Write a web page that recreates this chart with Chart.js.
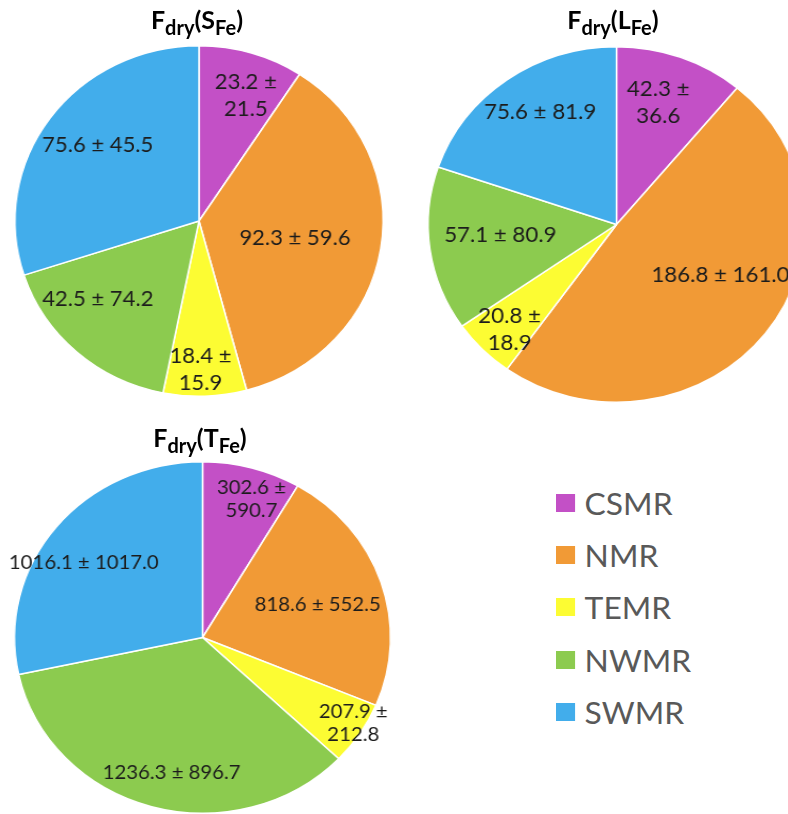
<!DOCTYPE html>
<html>
<head>
<meta charset="utf-8">
<title>Dry deposition flux of Fe by region</title>
<script src="https://cdn.jsdelivr.net/npm/chart.js@4"></script>
<style>
  html, body { margin: 0; padding: 0; background: #fff; }
  body { width: 788px; height: 814px; position: relative; overflow: hidden; font-family: Lato, "Open Sans", sans-serif; }
  .pie { position: absolute; transform-origin: 50% 50%; }
  .pie canvas { display: block; }
  .title { position: absolute; font-weight: 700; font-size: 25px; line-height: 1; color: #000; white-space: nowrap; transform: translateX(-50%); z-index: 2; }
  .title sub { font-size: 0.8em; vertical-align: -0.3em; line-height: 0; }
  .legend { position: absolute; left: 556px; top: 477px; margin: 0; padding: 0; list-style: none; transform: scaleX(1.06); transform-origin: 0 0; }
  .legend li { height: 52.2px; display: flex; align-items: center; font-size: 30px; color: #595959; }
  .legend i { display: inline-block; width: 18px; height: 18px; margin-right: 9px; }
</style>
</head>
<body>

<div class="title" style="left:197px; top:7px;">F<sub>dry</sub>(S<sub>Fe</sub>)</div>
<div class="title" style="left:613px; top:7px;">F<sub>dry</sub>(L<sub>Fe</sub>)</div>
<div class="title" style="left:200px; top:425px;">F<sub>dry</sub>(T<sub>Fe</sub>)</div>

<div class="pie" id="boxS"><canvas id="pieS"></canvas></div>
<div class="pie" id="boxL"><canvas id="pieL"></canvas></div>
<div class="pie" id="boxT"><canvas id="pieT"></canvas></div>

<ul class="legend" id="legend"></ul>

<script>
// Regions and their fill colours
const regions = ['CSMR', 'NMR', 'TEMR', 'NWMR', 'SWMR'];
const regionColors = ['#C350C6', '#F19A36', '#FCFC33', '#8CCB4F', '#42ADEB'];

// Soluble Fe: mean and standard deviation
const sfeMean = [23.2, 92.3, 18.4, 42.5, 75.6];
const sfeSd   = [21.5, 59.6, 15.9, 74.2, 45.5];

// Labile Fe: mean and standard deviation
const lfeMean = [42.3, 186.8, 20.8, 57.1, 75.6];
const lfeSd   = [36.6, 161.0, 18.9, 80.9, 81.9];

// Total Fe: mean and standard deviation
const tfeMean = [302.6, 818.6, 207.9, 1236.3, 1016.1];
const tfeSd   = [590.7, 552.5, 212.8, 896.7, 1017.0];

// Label placement inside each slice: t = position along the arc (0..1),
// r = fraction of the radius, wrap = break after the "±" sign
const placeS = [
  { t: 0.59, r: 0.76, wrap: true },
  { t: 0.51, r: 0.53 },
  { t: 0.55, r: 0.85, wrap: true },
  { t: 0.65, r: 0.71 },
  { t: 0.52, r: 0.70 }
];
const placeL = [
  { t: 0.45, r: 0.72, wrap: true },
  { t: 0.44, r: 0.62 },
  { t: 0.42, r: 0.82, wrap: true },
  { t: 0.54, r: 0.62 },
  { t: 0.54, r: 0.75 }
];
const placeT = [
  { t: 0.60, r: 0.83, wrap: true },
  { t: 0.52, r: 0.64 },
  { t: 0.42, r: 0.94, wrap: true },
  { t: 0.47, r: 0.79 },
  { t: 0.45, r: 0.76 }
];

// Writes "mean ± sd" into each slice
const sliceLabels = {
  id: 'sliceLabels',
  afterDatasetsDraw(chart, args, opts) {
    const ctx = chart.ctx;
    const meta = chart.getDatasetMeta(0);
    const values = chart.data.datasets[0].data;
    ctx.save();
    ctx.font = opts.fontSize + 'px Lato, "Open Sans", sans-serif';
    ctx.fillStyle = '#1c1c1c';
    ctx.textAlign = 'center';
    ctx.textBaseline = 'middle';
    meta.data.forEach((arc, i) => {
      const { x, y, startAngle, endAngle, outerRadius } =
        arc.getProps(['x', 'y', 'startAngle', 'endAngle', 'outerRadius'], true);
      const p = opts.place[i];
      const a = startAngle + (endAngle - startAngle) * p.t;
      const d = outerRadius * p.r;
      const lx = x + Math.cos(a) * d;
      const ly = y + Math.sin(a) * d;
      const mean = values[i].toFixed(1);
      const sd = opts.errors[i].toFixed(1);
      const lines = p.wrap ? [mean + ' \u00B1', sd] : [mean + ' \u00B1 ' + sd];
      lines.forEach((s, k) => {
        ctx.fillText(s, lx, ly + (k - (lines.length - 1) / 2) * opts.lineHeight);
      });
    });
    ctx.restore();
  }
};

// One pie: centre (cx, cy), vertical radius r, horizontal stretch sx.
// The canvas carries a margin so labels that overhang the pie stay visible.
function drawPie(boxId, canvasId, cx, cy, r, sx, means, errors, place, fontSize, lineHeight) {
  const pad = 40;
  const size = Math.round(2 * r + 2 + 2 * pad);
  const box = document.getElementById(boxId);
  const canvas = document.getElementById(canvasId);
  canvas.width = size;
  canvas.height = size;
  box.style.left = (cx - size / 2) + 'px';
  box.style.top = (cy - size / 2) + 'px';
  box.style.width = size + 'px';
  box.style.height = size + 'px';
  box.style.transform = 'scaleX(' + sx + ')';
  new Chart(canvas, {
    type: 'pie',
    data: {
      labels: regions,
      datasets: [{
        data: means,
        backgroundColor: regionColors,
        borderColor: '#ffffff',
        borderWidth: 1.5
      }]
    },
    options: {
      responsive: false,
      animation: false,
      events: [],
      layout: { padding: pad },
      plugins: {
        legend: { display: false },
        tooltip: { enabled: false },
        sliceLabels: { place: place, errors: errors, fontSize: fontSize, lineHeight: lineHeight }
      }
    },
    plugins: [sliceLabels]
  });
}

drawPie('boxS', 'pieS', 198.5, 221, 175, 1.05, sfeMean, sfeSd, placeS, 21, 27);
drawPie('boxL', 'pieL', 616, 224.5, 177.5, 1.06, lfeMean, lfeSd, placeL, 21, 27);
drawPie('boxT', 'pieT', 202, 637.5, 175.5, 1.07, tfeMean, tfeSd, placeT, 19, 23);

// Region key
const legend = document.getElementById('legend');
regions.forEach((name, i) => {
  const li = document.createElement('li');
  const sw = document.createElement('i');
  sw.style.background = regionColors[i];
  li.appendChild(sw);
  li.appendChild(document.createTextNode(name));
  legend.appendChild(li);
});
</script>
</body>
</html>
